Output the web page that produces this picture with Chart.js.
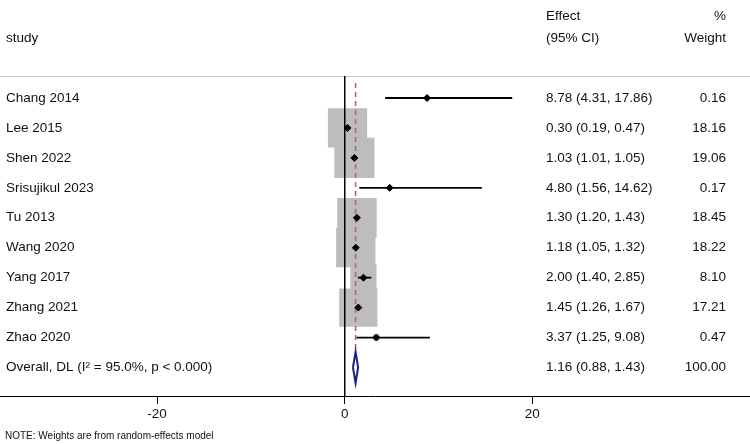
<!DOCTYPE html>
<html>
<head>
<meta charset="utf-8">
<script src="https://cdn.jsdelivr.net/npm/chart.js@4"></script>
<style>
  html, body { margin: 0; padding: 0; background: #fff; }
  canvas { display: block; }
</style>
</head>
<body>
<canvas id="forest" width="750" height="444"></canvas>
<script>
// study rows, top to bottom
const studies = ['Chang 2014', 'Lee 2015', 'Shen 2022', 'Srisujikul 2023', 'Tu 2013',
                 'Wang 2020', 'Yang 2017', 'Zhang 2021', 'Zhao 2020'];
const effects = [8.78, 0.30, 1.03, 4.80, 1.30, 1.18, 2.00, 1.45, 3.37];
const lower   = [4.31, 0.19, 1.01, 1.56, 1.20, 1.05, 1.40, 1.26, 1.25];
const upper   = [17.86, 0.47, 1.05, 14.62, 1.43, 1.32, 2.85, 1.67, 9.08];
const weights = [0.16, 18.16, 19.06, 0.17, 18.45, 18.22, 8.10, 17.21, 0.47];

// pooled estimate
const overallLabel = 'Overall, DL (I\u00B2 = 95.0%, p < 0.000)';
const overallEffect = 1.16;
const overallLower = 0.88;
const overallUpper = 1.43;
const overallWeight = 100.00;

const xTicks = [-20, 0, 20];

// layout bits
const xMin = -36.75, xMax = 43.21;
const yMin = -0.735, yMax = 9.953;
const overallRow = studies.length;
const diamondHalf = 0.52;
const boxScale = 9.2; // px of box side per sqrt(weight)
const fontFamily = '"Liberation Sans", Arial, Helvetica, sans-serif';
const textColor = '#111';

const fmt = v => v.toFixed(2);

const ciSets = studies.map((s, i) => ({
    type: 'line',
    data: [{x: lower[i], y: i}, {x: upper[i], y: i}],
    borderColor: '#000',
    borderWidth: 1.8,
    pointRadius: 0,
    order: 3
}));

const textPlugin = {
    id: 'forestText',
    beforeDatasetsDraw(chart) {
        const {ctx, chartArea} = chart;
        ctx.save();
        ctx.strokeStyle = '#c6c6c6';
        ctx.lineWidth = 1;
        ctx.beginPath();
        ctx.moveTo(chartArea.left, chartArea.top + 0.5);
        ctx.lineTo(chartArea.right, chartArea.top + 0.5);
        ctx.stroke();
        ctx.restore();
    },
    afterDraw(chart) {
        const {ctx, scales: {y}} = chart;
        ctx.save();
        ctx.fillStyle = textColor;
        ctx.textBaseline = 'middle';
        ctx.font = '13.5px ' + fontFamily;

        // headers
        ctx.textAlign = 'left';
        ctx.fillText('study', 6, 38);
        ctx.fillText('Effect', 546, 16);
        ctx.fillText('(95% CI)', 546, 38);
        ctx.textAlign = 'right';
        ctx.fillText('%', 726, 16);
        ctx.fillText('Weight', 726, 38);

        // rows
        studies.forEach((s, i) => {
            const py = y.getPixelForValue(i);
            ctx.textAlign = 'left';
            ctx.fillText(s, 6, py);
            ctx.fillText(`${fmt(effects[i])} (${fmt(lower[i])}, ${fmt(upper[i])})`, 546, py);
            ctx.textAlign = 'right';
            ctx.fillText(fmt(weights[i]), 726, py);
        });
        const oy = y.getPixelForValue(overallRow);
        ctx.textAlign = 'left';
        ctx.fillText(overallLabel, 6, oy);
        ctx.fillText(`${fmt(overallEffect)} (${fmt(overallLower)}, ${fmt(overallUpper)})`, 546, oy);
        ctx.textAlign = 'right';
        ctx.fillText(fmt(overallWeight), 726, oy);

        // footnote
        ctx.textAlign = 'left';
        ctx.font = '10px ' + fontFamily;
        ctx.fillText('NOTE: Weights are from random-effects model', 5, 436);
        ctx.restore();
    }
};

new Chart(document.getElementById('forest'), {
    type: 'scatter',
    data: {
        datasets: [
            {
                // weight boxes
                data: effects.map((e, i) => ({x: e, y: i})),
                pointStyle: 'rect',
                pointRadius: c => boxScale * Math.sqrt(weights[c.dataIndex]) / Math.SQRT2,
                backgroundColor: '#bdbdbd',
                borderWidth: 0,
                order: 10
            },
            {
                // null line
                type: 'line',
                data: [{x: 0, y: yMin}, {x: 0, y: yMax}],
                borderColor: '#000',
                borderWidth: 1,
                pointRadius: 0,
                order: 5
            },
            {
                // overall effect line
                type: 'line',
                data: [{x: overallEffect, y: -0.5}, {x: overallEffect, y: overallRow - diamondHalf}],
                borderColor: '#b86666',
                borderWidth: 1.6,
                borderDash: [5, 4],
                pointRadius: 0,
                order: 4
            },
            ...ciSets,
            {
                // point estimates
                data: effects.map((e, i) => ({x: e, y: i})),
                pointStyle: 'rectRot',
                pointRadius: 3.5,
                backgroundColor: '#000',
                borderColor: '#000',
                borderWidth: 1,
                order: 2
            },
            {
                // pooled diamond
                type: 'line',
                data: [
                    {x: overallLower, y: overallRow},
                    {x: overallEffect, y: overallRow - diamondHalf},
                    {x: overallUpper, y: overallRow},
                    {x: overallEffect, y: overallRow + diamondHalf},
                    {x: overallLower, y: overallRow}
                ],
                borderColor: '#1e1e8c',
                borderWidth: 2,
                pointRadius: 0,
                tension: 0,
                fill: false,
                order: 1
            }
        ]
    },
    options: {
        responsive: false,
        animation: false,
        layout: {autoPadding: false, padding: {top: 76, left: 0, right: 0, bottom: 0}},
        plugins: {legend: {display: false}, tooltip: {enabled: false}},
        scales: {
            x: {
                type: 'linear',
                min: xMin,
                max: xMax,
                afterBuildTicks: axis => { axis.ticks = xTicks.map(v => ({value: v})); },
                afterFit: axis => {
                    axis.height = 48;
                    axis.paddingLeft = 0;
                    axis.paddingRight = 0;
                },
                grid: {drawOnChartArea: false, drawTicks: true, tickLength: 8, color: '#000', tickColor: '#000'},
                border: {display: true, color: '#000', width: 1},
                ticks: {
                    color: textColor,
                    padding: 2,
                    maxRotation: 0,
                    font: {family: fontFamily, size: 13.5}
                }
            },
            y: {
                type: 'linear',
                display: false,
                reverse: true,
                min: yMin,
                max: yMax
            }
        }
    },
    plugins: [textPlugin]
});
</script>
</body>
</html>
